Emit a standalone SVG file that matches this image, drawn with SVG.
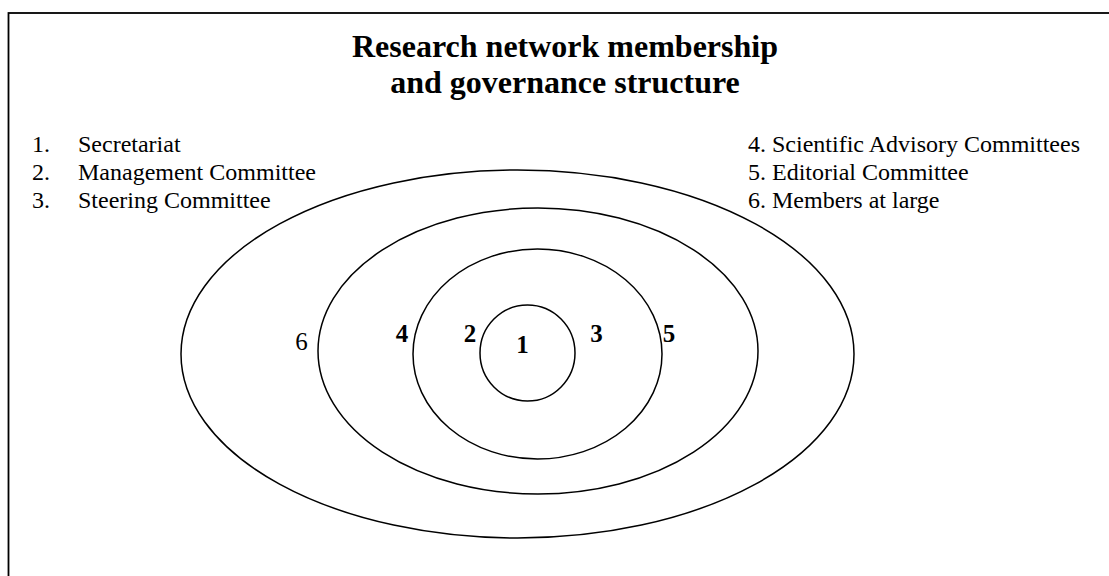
<svg xmlns="http://www.w3.org/2000/svg" width="1109" height="576" viewBox="0 0 1109 576">
  <style>
    text { font-family: "Liberation Serif", "Times New Roman", serif; fill: #000; }
    .title { font-size: 32px; font-weight: bold; text-anchor: middle; }
    .legend { font-size: 24px; }
    .num { font-size: 25px; text-anchor: middle; }
    .bold { font-weight: bold; }
    .ring { fill: none; stroke: #000; stroke-width: 1.5; }
  </style>
  <rect x="0" y="0" width="1109" height="576" fill="#fff"/>
  <!-- outer frame -->
  <rect x="8.5" y="13" width="1110" height="580" fill="none" stroke="#000" stroke-width="1.8"/>

  <g id="title">
    <text class="title" x="565" y="57">Research network membership</text>
    <text class="title" x="565" y="93">and governance structure</text>
  </g>

  <g id="legend-left">
    <text class="legend" x="32" y="152">1.</text>
    <text class="legend" x="78" y="152">Secretariat</text>
    <text class="legend" x="32" y="180">2.</text>
    <text class="legend" x="78" y="180">Management Committee</text>
    <text class="legend" x="32" y="208">3.</text>
    <text class="legend" x="78" y="208">Steering Committee</text>
  </g>

  <g id="legend-right">
    <text class="legend" x="748" y="152">4. Scientific Advisory Committees</text>
    <text class="legend" x="748" y="180">5. Editorial Committee</text>
    <text class="legend" x="748" y="208">6. Members at large</text>
  </g>

  <g id="ring-6">
    <ellipse class="ring" cx="517.5" cy="354" rx="336.5" ry="184"/>
    <text class="num" x="301.5" y="350">6</text>
  </g>
  <g id="ring-4-5">
    <ellipse class="ring" cx="538" cy="351" rx="220" ry="143"/>
    <text class="num bold" x="402" y="342">4</text>
    <text class="num bold" x="669" y="342">5</text>
  </g>
  <g id="ring-2-3">
    <ellipse class="ring" cx="537.5" cy="354" rx="124.5" ry="105"/>
    <text class="num bold" x="470" y="342">2</text>
    <text class="num bold" x="596.5" y="342">3</text>
  </g>
  <g id="ring-1">
    <ellipse class="ring" cx="527.5" cy="353" rx="47.5" ry="48"/>
    <text class="num bold" x="522.5" y="353">1</text>
  </g>
</svg>
